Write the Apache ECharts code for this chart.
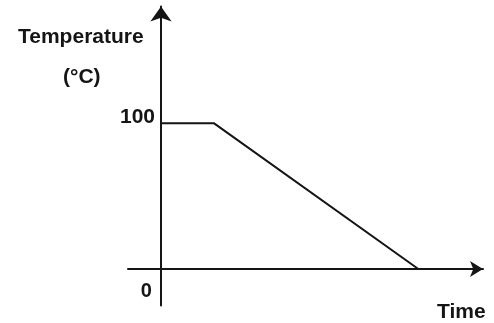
<!DOCTYPE html>
<html>
<head>
<meta charset="utf-8">
<script src="https://cdn.jsdelivr.net/npm/echarts@6/dist/echarts.min.js"></script>
<style>
  html, body { margin: 0; padding: 0; background: #fff; }
  #chart { width: 494px; height: 323px; }
</style>
</head>
<body>
<div id="chart"></div>
<script>
// heating curve values
const timeValues = [0, 1.6, 7.8]
const tempValues = [100, 100, 0]
const yTickLabels = [100]
const xTickLabels = [0]

const ink = '#151515'
const font = 'Liberation Sans, Arial, sans-serif'

const chart = echarts.init(document.getElementById('chart'))

// labels are laid out from the grid edge, the axes sit on zero
const option = {
  animation: false,
  backgroundColor: '#fff',
  grid: {
    left: 128, right: 11, top: 6.5, bottom: 17.5,
    containLabel: false,
    outerBoundsMode: 'none'
  },
  xAxis: {
    type: 'value',
    min: -1,
    max: 9.76,
    axisLine: {
      onZero: true,
      symbol: ['none', 'arrow'],
      symbolSize: [12, 13],
      lineStyle: { color: ink, width: 2 }
    },
    axisTick: { show: false },
    splitLine: { show: false },
    axisLabel: {
      customValues: xTickLabels,
      margin: -24,
      align: 'right',
      padding: [0, 9, 0, 0],
      color: ink,
      fontFamily: font,
      fontWeight: 'bold',
      fontSize: 20
    }
  },
  yAxis: {
    type: 'value',
    min: -25,
    max: 180,
    axisLine: {
      onZero: true,
      symbol: ['none', 'arrow'],
      symbolSize: [16, 15],
      lineStyle: { color: ink, width: 2 }
    },
    axisTick: { show: false },
    splitLine: { show: false },
    axisLabel: {
      customValues: yTickLabels,
      margin: -27,
      formatter: v => '{a|' + v + '}',
      rich: {
        a: {
          padding: [0, 0, 12, 0],
          color: ink,
          fontFamily: font,
          fontWeight: 'bold',
          fontSize: 21
        }
      }
    }
  },
  graphic: [
    {
      type: 'text', left: 18, top: 27,
      style: { text: 'Temperature', fill: ink, font: 'bold 21px ' + font }
    },
    {
      type: 'text', left: 63, top: 67,
      style: { text: '(°C)', fill: ink, font: 'bold 21px ' + font }
    },
    {
      type: 'text', left: 437, top: 302,
      style: { text: 'Time', fill: ink, font: 'bold 21px ' + font }
    }
  ],
  series: [
    {
      type: 'line',
      data: timeValues.map((t, i) => [t, tempValues[i]]),
      symbol: 'none',
      lineStyle: { color: ink, width: 2 }
    }
  ]
}

chart.setOption(option)
</script>
</body>
</html>
